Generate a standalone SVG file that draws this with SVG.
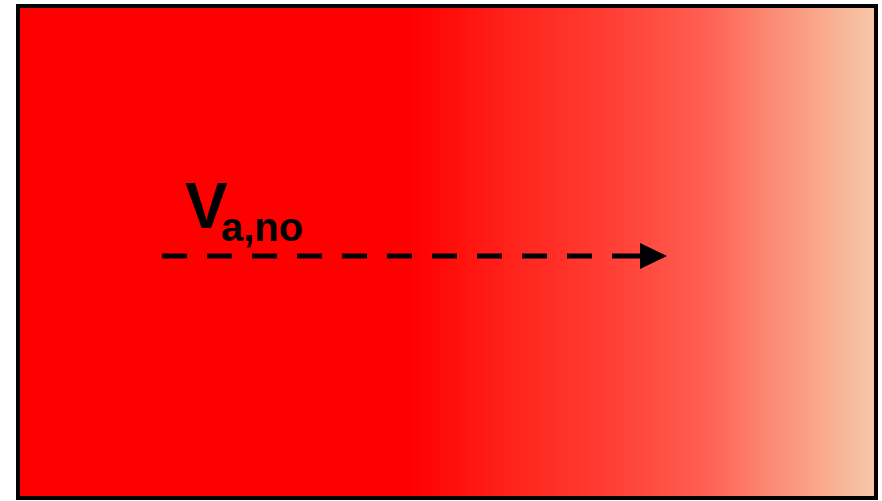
<svg xmlns="http://www.w3.org/2000/svg" width="882" height="501" viewBox="0 0 882 501">
<defs>
<linearGradient id="bg" gradientUnits="userSpaceOnUse" x1="20" y1="0" x2="874" y2="0">
<stop offset="0" stop-color="#ff0000"/>
<stop offset="0.457" stop-color="#ff0000"/>
<stop offset="0.60" stop-color="#ff2a22"/>
<stop offset="0.69" stop-color="#ff3e34"/>
<stop offset="0.80" stop-color="#ff5e52"/>
<stop offset="0.89" stop-color="#fb9078"/>
<stop offset="1" stop-color="#f6c8a8"/>
</linearGradient>
<marker id="arrow" markerUnits="userSpaceOnUse" viewBox="0 0 27 26" markerWidth="27" markerHeight="26" refX="0" refY="13" orient="auto">
<path d="M0,0 L27,13 L0,26 Z" fill="#000"/>
</marker>
<style>
.lbl{font-family:"Liberation Sans",Arial,sans-serif;font-weight:bold;fill:#000}
.conn{stroke:#000;stroke-width:5;fill:none}
</style>
</defs>
<g id="background">
<rect x="18" y="6" width="858" height="492" fill="url(#bg)" stroke="#000" stroke-width="4"/>
</g>
<g id="label">
<text class="lbl" x="185" y="228" font-size="64">V</text>
<text class="lbl" x="221" y="241" font-size="40">a,no</text>
</g>
<g id="connectors">
<line class="conn" x1="162" y1="256" x2="640" y2="256" stroke-dasharray="25 20 25 20 25 20 25 20 25 20 25 20 25 20 25 20 25 20 25 20 28 0" marker-end="url(#arrow)"/>
</g>
</svg>
